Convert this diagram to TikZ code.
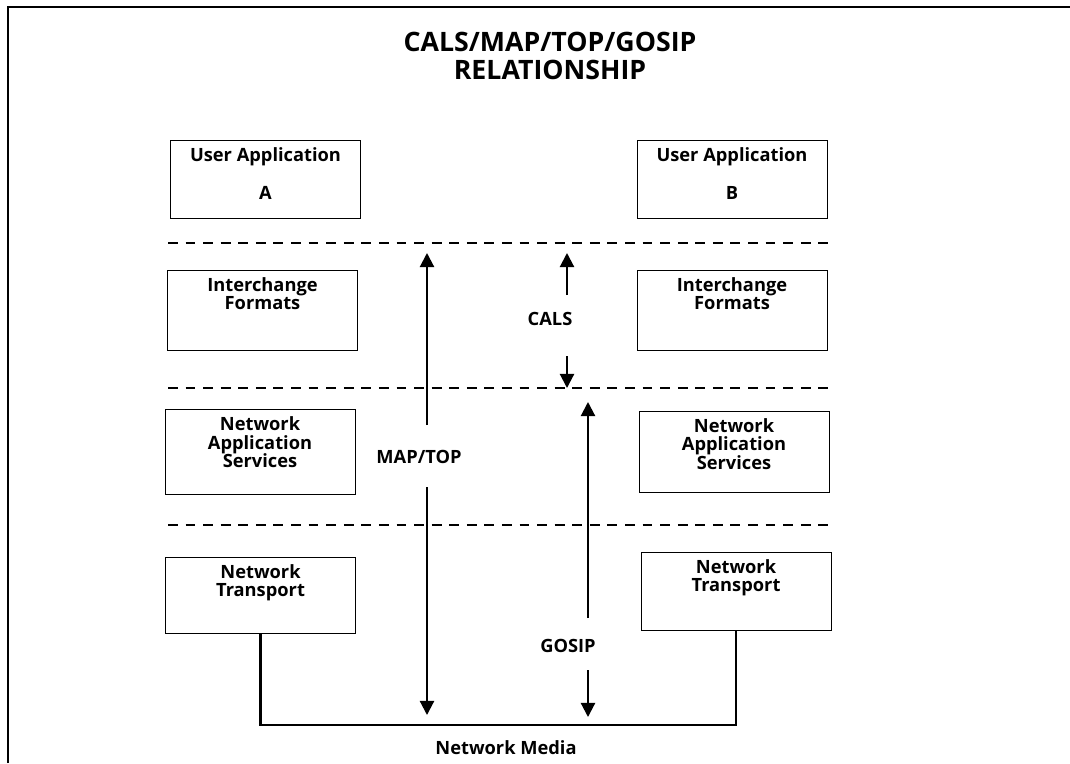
\documentclass[tikz,border=0pt]{standalone}
\usepackage{fontspec}
\setmainfont{Open Sans}
\usetikzlibrary{arrows.meta}

\tikzset{
  layer/.style={draw, line width=0.6pt, minimum width=135pt, inner sep=0pt},
  boxtext/.style={anchor=north, inner sep=0pt, align=center, font=\bfseries\fontsize{13}{13}\selectfont},
  lbl/.style={font=\bfseries\fontsize{13}{13}\selectfont, inner sep=0pt},
  sep/.style={dash pattern=on 7pt off 5.5pt, line width=1.1pt},
  flow/.style={line width=1.5pt, -{Triangle[length=10pt,width=10pt]}},
}

\begin{document}
\begin{tikzpicture}[x=0.025cm, y=-0.025cm]
\useasboundingbox (0,0) rectangle (1070,763);
\draw[line width=1.2pt] (8,763) -- (8,7) -- (1070,7);
\node[font=\bfseries\fontsize{19}{19.5}\selectfont, align=center] (title) at (550,56) {CALS/MAP/TOP/GOSIP\\RELATIONSHIP};

\node[layer, minimum height=55.5pt] (userA) at (265.5,179) {};
\node[layer, minimum height=55.5pt] (userB) at (732,179) {};
\node[layer, minimum height=57pt] (formA) at (262.5,310) {};
\node[layer, minimum height=57pt] (formB) at (732,310) {};
\node[layer, minimum height=60.5pt] (servA) at (260,452) {};
\node[layer, minimum height=58pt] (servB) at (734,452) {};
\node[layer, minimum height=54pt] (transA) at (260.5,595) {};
\node[layer, minimum height=55.5pt] (transB) at (736,591) {};

\node[boxtext] (userA txt) at ([yshift=-5.5pt]userA.north) {User Application\\[14pt]A};
\node[boxtext] (userB txt) at ([yshift=-5.5pt]userB.north) {User Application\\[14pt]B};
\node[boxtext] (formA txt) at ([yshift=-5.5pt]formA.north) {Interchange\\Formats};
\node[boxtext] (formB txt) at ([yshift=-5.5pt]formB.north) {Interchange\\Formats};
\node[boxtext] (servA txt) at ([yshift=-5.5pt]servA.north) {Network\\Application\\Services};
\node[boxtext] (servB txt) at ([yshift=-5.5pt]servB.north) {Network\\Application\\Services};
\node[boxtext] (transA txt) at ([yshift=-5.5pt]transA.north) {Network\\Transport};
\node[boxtext] (transB txt) at ([yshift=-5.5pt]transB.north) {Network\\Transport};

\coordinate (sep1 w) at (168,243); \coordinate (sep1 e) at (828,243);
\coordinate (sep2 w) at (168,388); \coordinate (sep2 e) at (828,388);
\coordinate (sep3 w) at (168,525); \coordinate (sep3 e) at (828,525);
\draw[sep] (sep1 w) -- (sep1 e);
\draw[sep] (sep2 w) -- (sep2 e);
\draw[sep] (sep3 w) -- (sep3 e);

\node[lbl] (maptop) at (419,457) {MAP/TOP};
\coordinate (mt top) at (427,253); \coordinate (mt a) at (427,425);
\coordinate (mt b) at (427,487); \coordinate (mt bot) at (427,715);
\draw[flow] (mt a) -- (mt top);
\draw[flow] (mt b) -- (mt bot);

\node[lbl] (cals) at (550,319) {CALS};
\coordinate (cals top) at (567,253); \coordinate (cals a) at (567,295);
\coordinate (cals b) at (567,356); \coordinate (cals bot) at (567,388);
\draw[flow] (cals a) -- (cals top);
\draw[flow] (cals b) -- (cals bot);

\node[lbl] (gosip) at (568,646) {GOSIP};
\coordinate (gos top) at (588,402); \coordinate (gos a) at (588,618);
\coordinate (gos b) at (588,670); \coordinate (gos bot) at (588,717);
\draw[flow] (gos a) -- (gos top);
\draw[flow] (gos b) -- (gos bot);

\coordinate (bus) at (500,725);
\draw[line width=1.5pt] (transA.south) |- (bus) -| (transB.south);
\node[lbl] (media) at (506,748) {Network Media};
\end{tikzpicture}
\end{document}
